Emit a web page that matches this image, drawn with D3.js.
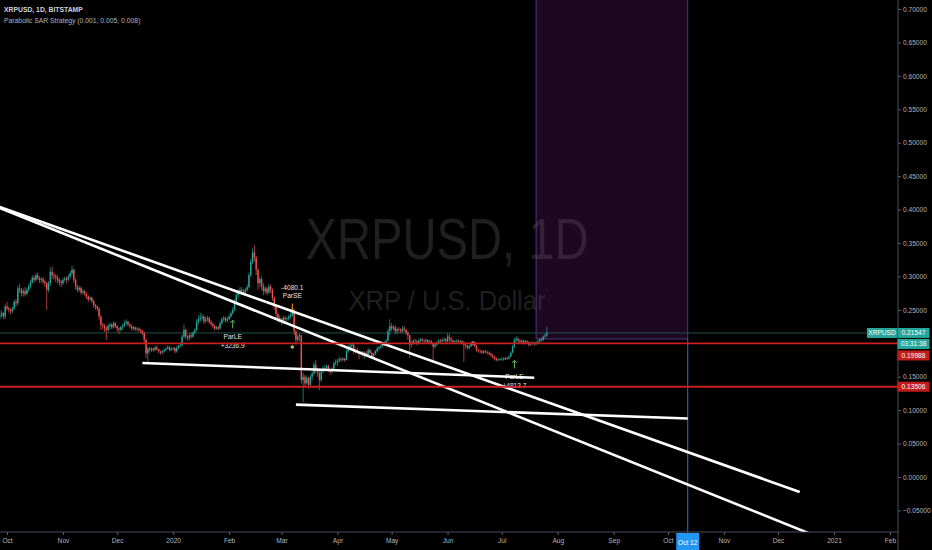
<!DOCTYPE html>
<html>
<head>
<meta charset="utf-8">
<script src="https://cdn.jsdelivr.net/npm/d3@7"></script>
<style>
  html, body { margin: 0; padding: 0; background: #000; }
  svg { display: block; font-family: "Liberation Sans", Arial, sans-serif; }
</style>
</head>
<body>
<svg id="chart" width="932" height="550"></svg>
<script>
// XRPUSD daily candles, Bitstamp, 2019-09-27 .. 2020-07-26
const startDate = "2019-09-27";
const firstOpen = 0.238;
const closes = [
  0.242, 0.245, 0.240, 0.255,
  0.252, 0.250, 0.248, 0.252, 0.262, 0.260, 0.282, 0.280, 0.275, 0.278, 0.274, 0.280, 0.285, 0.292, 0.298, 0.295, 0.302, 0.298, 0.295, 0.296, 0.292, 0.290, 0.280, 0.290, 0.307, 0.302, 0.300, 0.298, 0.295, 0.292, 0.290,
  0.295, 0.297, 0.295, 0.300, 0.305, 0.310, 0.295, 0.285, 0.280, 0.283, 0.276, 0.278, 0.274, 0.270, 0.266, 0.268, 0.263, 0.257, 0.255, 0.252, 0.240, 0.228, 0.226, 0.222, 0.220, 0.226, 0.228, 0.224, 0.230, 0.226,
  0.222, 0.220, 0.224, 0.226, 0.230, 0.232, 0.228, 0.226, 0.222, 0.224, 0.221, 0.222, 0.220, 0.218, 0.215, 0.205, 0.185, 0.192, 0.190, 0.192, 0.190, 0.194, 0.191, 0.188, 0.186, 0.188, 0.190, 0.192, 0.194, 0.190, 0.192,
  0.193, 0.188, 0.193, 0.196, 0.197, 0.210, 0.220, 0.210, 0.208, 0.212, 0.210, 0.216, 0.220, 0.232, 0.236, 0.238, 0.240, 0.233, 0.236, 0.238, 0.232, 0.229, 0.226, 0.222, 0.224, 0.222, 0.230, 0.236, 0.238, 0.234, 0.236,
  0.240, 0.245, 0.250, 0.262, 0.272, 0.276, 0.280, 0.278, 0.276, 0.280, 0.284, 0.302, 0.322, 0.336, 0.328, 0.310, 0.290, 0.296, 0.285, 0.278, 0.282, 0.276, 0.285, 0.280, 0.268, 0.255, 0.244, 0.238, 0.235,
  0.232, 0.238, 0.236, 0.237, 0.240, 0.242, 0.248, 0.218, 0.205, 0.210, 0.212, 0.145, 0.150, 0.140, 0.148, 0.138, 0.150, 0.155, 0.168, 0.160, 0.156, 0.145, 0.158, 0.162, 0.163, 0.166, 0.160, 0.158, 0.162, 0.170, 0.172,
  0.174, 0.176, 0.175, 0.177, 0.175, 0.188, 0.192, 0.196, 0.198, 0.188, 0.190, 0.186, 0.184, 0.187, 0.182, 0.186, 0.182, 0.190, 0.186, 0.180, 0.184, 0.188, 0.192, 0.194, 0.196, 0.198, 0.200, 0.204, 0.218, 0.226,
  0.222, 0.224, 0.218, 0.221, 0.220, 0.218, 0.222, 0.220, 0.216, 0.212, 0.198, 0.200, 0.204, 0.203, 0.200, 0.204, 0.206, 0.204, 0.203, 0.205, 0.202, 0.203, 0.200, 0.195, 0.198, 0.201, 0.204, 0.203, 0.205, 0.206, 0.203,
  0.210, 0.207, 0.204, 0.202, 0.203, 0.204, 0.202, 0.203, 0.201, 0.198, 0.196, 0.193, 0.196, 0.199, 0.201, 0.196, 0.190, 0.189, 0.188, 0.186, 0.188, 0.187, 0.186, 0.184, 0.182, 0.180, 0.177, 0.175, 0.176, 0.176,
  0.177, 0.176, 0.178, 0.177, 0.180, 0.186, 0.195, 0.205, 0.207, 0.204, 0.202, 0.204, 0.201, 0.203, 0.202, 0.198, 0.200, 0.201, 0.199, 0.201, 0.203, 0.206, 0.205, 0.210, 0.212, 0.21547,
];
const highs = [
  0.248, 0.249, 0.247, 0.258,
  0.262, 0.255, 0.253, 0.255, 0.265, 0.266, 0.286, 0.289, 0.283, 0.282, 0.284, 0.283, 0.289, 0.295, 0.302, 0.301, 0.305, 0.306, 0.300, 0.299, 0.299, 0.295, 0.292, 0.293, 0.313, 0.315, 0.306, 0.304, 0.302, 0.298, 0.295,
  0.298, 0.300, 0.300, 0.303, 0.308, 0.316, 0.312, 0.297, 0.288, 0.286, 0.285, 0.281, 0.280, 0.276, 0.272, 0.270, 0.270, 0.265, 0.259, 0.257, 0.254, 0.242, 0.231, 0.229, 0.226, 0.229, 0.231, 0.230, 0.233, 0.232,
  0.227, 0.224, 0.226, 0.229, 0.234, 0.236, 0.234, 0.230, 0.228, 0.226, 0.225, 0.224, 0.224, 0.222, 0.220, 0.217, 0.207, 0.195, 0.195, 0.194, 0.193, 0.196, 0.197, 0.192, 0.189, 0.190, 0.192, 0.194, 0.197, 0.196, 0.194,
  0.195, 0.194, 0.196, 0.198, 0.201, 0.213, 0.228, 0.222, 0.212, 0.215, 0.216, 0.218, 0.222, 0.236, 0.242, 0.246, 0.244, 0.242, 0.240, 0.241, 0.240, 0.235, 0.231, 0.228, 0.226, 0.226, 0.233, 0.239, 0.241, 0.240, 0.239,
  0.243, 0.248, 0.254, 0.266, 0.276, 0.281, 0.284, 0.284, 0.281, 0.283, 0.288, 0.306, 0.326, 0.342, 0.347, 0.331, 0.312, 0.299, 0.300, 0.290, 0.286, 0.284, 0.289, 0.288, 0.282, 0.270, 0.258, 0.246, 0.242,
  0.238, 0.241, 0.241, 0.240, 0.243, 0.246, 0.255, 0.250, 0.220, 0.214, 0.215, 0.213, 0.156, 0.153, 0.152, 0.150, 0.153, 0.158, 0.172, 0.175, 0.163, 0.160, 0.160, 0.166, 0.168, 0.168, 0.168, 0.162, 0.164, 0.173, 0.176,
  0.177, 0.180, 0.179, 0.179, 0.178, 0.191, 0.198, 0.199, 0.201, 0.199, 0.192, 0.194, 0.187, 0.189, 0.189, 0.188, 0.188, 0.193, 0.192, 0.188, 0.186, 0.190, 0.195, 0.196, 0.198, 0.200, 0.203, 0.206, 0.222, 0.236,
  0.230, 0.227, 0.227, 0.224, 0.224, 0.223, 0.226, 0.226, 0.222, 0.218, 0.213, 0.204, 0.206, 0.207, 0.205, 0.206, 0.208, 0.208, 0.206, 0.207, 0.206, 0.205, 0.205, 0.202, 0.200, 0.203, 0.206, 0.207, 0.207, 0.209, 0.208,
  0.215, 0.214, 0.209, 0.206, 0.205, 0.206, 0.206, 0.205, 0.205, 0.203, 0.200, 0.198, 0.198, 0.201, 0.203, 0.203, 0.198, 0.192, 0.191, 0.190, 0.190, 0.190, 0.189, 0.188, 0.186, 0.184, 0.181, 0.179, 0.178, 0.178,
  0.179, 0.179, 0.180, 0.180, 0.182, 0.188, 0.198, 0.208, 0.211, 0.209, 0.206, 0.206, 0.205, 0.205, 0.205, 0.203, 0.202, 0.203, 0.202, 0.203, 0.205, 0.208, 0.209, 0.212, 0.215, 0.225,
];
const lows = [
  0.235, 0.239, 0.236, 0.236,
  0.249, 0.246, 0.243, 0.245, 0.250, 0.255, 0.257, 0.275, 0.270, 0.270, 0.270, 0.272, 0.277, 0.282, 0.289, 0.290, 0.292, 0.294, 0.290, 0.290, 0.288, 0.284, 0.250, 0.276, 0.286, 0.296, 0.295, 0.292, 0.290, 0.286, 0.284,
  0.287, 0.292, 0.290, 0.293, 0.297, 0.302, 0.290, 0.280, 0.276, 0.277, 0.272, 0.273, 0.270, 0.266, 0.262, 0.263, 0.260, 0.253, 0.250, 0.248, 0.235, 0.220, 0.221, 0.217, 0.205, 0.217, 0.221, 0.221, 0.222, 0.223,
  0.217, 0.214, 0.218, 0.220, 0.224, 0.228, 0.225, 0.223, 0.219, 0.219, 0.218, 0.218, 0.217, 0.215, 0.212, 0.200, 0.178, 0.172, 0.186, 0.187, 0.187, 0.188, 0.189, 0.185, 0.183, 0.184, 0.186, 0.188, 0.191, 0.188, 0.188,
  0.189, 0.185, 0.186, 0.191, 0.194, 0.196, 0.208, 0.206, 0.204, 0.204, 0.207, 0.208, 0.213, 0.218, 0.228, 0.232, 0.234, 0.229, 0.230, 0.232, 0.229, 0.226, 0.222, 0.219, 0.220, 0.219, 0.221, 0.228, 0.233, 0.231, 0.231,
  0.234, 0.238, 0.243, 0.248, 0.259, 0.268, 0.273, 0.274, 0.272, 0.271, 0.277, 0.282, 0.299, 0.318, 0.322, 0.302, 0.280, 0.284, 0.280, 0.272, 0.274, 0.272, 0.274, 0.275, 0.264, 0.250, 0.238, 0.232, 0.231,
  0.228, 0.229, 0.232, 0.233, 0.234, 0.237, 0.240, 0.212, 0.198, 0.202, 0.203, 0.140, 0.112, 0.136, 0.138, 0.132, 0.136, 0.145, 0.152, 0.155, 0.150, 0.130, 0.142, 0.155, 0.158, 0.160, 0.157, 0.153, 0.155, 0.160, 0.167,
  0.166, 0.171, 0.172, 0.173, 0.172, 0.174, 0.186, 0.189, 0.192, 0.184, 0.185, 0.184, 0.176, 0.182, 0.180, 0.177, 0.180, 0.181, 0.184, 0.177, 0.178, 0.182, 0.186, 0.189, 0.192, 0.194, 0.196, 0.198, 0.203, 0.212,
  0.218, 0.219, 0.214, 0.213, 0.216, 0.215, 0.215, 0.217, 0.213, 0.205, 0.178, 0.194, 0.198, 0.200, 0.197, 0.199, 0.201, 0.202, 0.200, 0.200, 0.199, 0.199, 0.198, 0.175, 0.192, 0.196, 0.199, 0.200, 0.201, 0.202, 0.200,
  0.201, 0.202, 0.201, 0.199, 0.199, 0.201, 0.199, 0.200, 0.198, 0.172, 0.192, 0.190, 0.191, 0.194, 0.196, 0.194, 0.187, 0.186, 0.185, 0.184, 0.184, 0.185, 0.183, 0.182, 0.179, 0.177, 0.174, 0.173, 0.173, 0.174,
  0.174, 0.174, 0.175, 0.175, 0.176, 0.179, 0.185, 0.193, 0.201, 0.201, 0.199, 0.200, 0.198, 0.199, 0.199, 0.195, 0.196, 0.198, 0.196, 0.197, 0.199, 0.201, 0.202, 0.203, 0.207, 0.210,
];

const priceTicks = [-0.05, 0, 0.05, 0.1, 0.15, 0.2, 0.25, 0.3, 0.35, 0.4, 0.45, 0.5, 0.55, 0.6, 0.65, 0.7];
const monthTicks = [
  "2019-10-01", "2019-11-01", "2019-12-01", "2020-01-01", "2020-02-01", "2020-03-01", "2020-04-01", "2020-05-01", "2020-06-01",
  "2020-07-01", "2020-08-01", "2020-09-01", "2020-10-01", "2020-11-01", "2020-12-01", "2021-01-01", "2021-02-01",
];
const monthLabels = ["Oct", "Nov", "Dec", "2020", "Feb", "Mar", "Apr", "May", "Jun", "Jul", "Aug", "Sep", "Oct", "Nov", "Dec", "2021", "Feb"];

const lastPrice = 0.21547;
const countdown = "03:31:38";
const levelPrices = [0.19988, 0.13506];

// hand-drawn trend lines: [date, price] end points
const trendLines = [
  [["2019-09-27", 0.4039], ["2020-12-13", -0.0224]],
  [["2019-09-27", 0.4024], ["2020-12-29", -0.096]],
  [["2019-12-15", 0.1705], ["2020-07-19", 0.1485]],
  [["2020-03-09", 0.1082], ["2020-10-12", 0.0875]],
];

const boxStart = "2020-07-20";
const boxEnd = "2020-10-12";
const boxTop = 0.72;
const boxBottom = 0.2065;
const cursorDate = "2020-10-12";
const cursorLabel = "Oct 12";

const signalDates = ["2020-02-03", "2020-03-07", "2020-07-08"];
const signalPrices = [0.2345, 0.2475, 0.1745];
const signalSides = ["long", "short", "long"];
const signalTexts = [["ParLE", "+3236.9"], ["-4080.1", "ParSE"], ["ParLE", "+4813.7"]];
const dotDates = ["2020-03-07", "2020-06-15"];
const dotPrices = [0.1945, 0.2004];

const width = 932;
const height = 550;
const plotRight = 898;
const plotBottom = 532;
const green = "#26a69a";
const red = "#ef5350";
const levelRed = "#cc1f1f";
const textColor = "#b2b5be";
const gridColor = "#5d606b";

const svg = d3.select("#chart");
const day = 864e5;
const parse = (s) => new Date(s + "T00:00:00Z");

const x = d3.scaleUtc()
  .domain([parse("2019-10-01"), parse("2021-02-01")])
  .range([7, 890]);
const y = d3.scaleLinear().domain([0, 0.7]).range([477, 9.05]);

const t0 = parse(startDate).getTime();
const candles = closes.map((c, i) => ({
  date: new Date(t0 + i * day),
  open: i ? closes[i - 1] : firstOpen,
  high: highs[i],
  low: lows[i],
  close: c,
}));

svg.append("rect").attr("width", width).attr("height", height).attr("fill", "#000");

svg.append("defs").append("clipPath").attr("id", "plot-clip")
  .append("rect").attr("width", plotRight).attr("height", plotBottom);

const plot = svg.append("g").attr("clip-path", "url(#plot-clip)");

// watermark
plot.append("text")
  .attr("x", 447).attr("y", 259)
  .attr("text-anchor", "middle")
  .attr("font-size", 58)
  .attr("fill", "#1f1f1f")
  .attr("textLength", 283).attr("lengthAdjust", "spacingAndGlyphs")
  .text("XRPUSD, 1D");
plot.append("text")
  .attr("x", 447).attr("y", 310)
  .attr("text-anchor", "middle")
  .attr("font-size", 28)
  .attr("fill", "#1f1f1f")
  .attr("textLength", 197).attr("lengthAdjust", "spacingAndGlyphs")
  .text("XRP / U.S. Dollar");

// long position box (translucent, the watermark shows through)
plot.append("rect")
  .attr("x", x(parse(boxStart)))
  .attr("y", y(boxTop))
  .attr("width", x(parse(boxEnd)) - x(parse(boxStart)))
  .attr("height", y(boxBottom) - y(boxTop))
  .attr("fill", "#9c27b0")
  .attr("fill-opacity", 0.19)
  .attr("stroke", "#6b3f9e")
  .attr("stroke-width", 0.8);

plot.append("line")
  .attr("x1", x(parse(cursorDate))).attr("x2", x(parse(cursorDate)))
  .attr("y1", y(boxBottom)).attr("y2", plotBottom)
  .attr("stroke", "#3a7fd0").attr("stroke-width", 0.9);

// last price line
plot.append("line")
  .attr("x1", 0).attr("x2", plotRight)
  .attr("y1", y(lastPrice)).attr("y2", y(lastPrice))
  .attr("stroke", "#1f5148").attr("stroke-width", 1);

// candles
const candleG = plot.append("g");
candleG.selectAll("line")
  .data(candles)
  .join("line")
  .attr("x1", (d) => x(d.date)).attr("x2", (d) => x(d.date))
  .attr("y1", (d) => y(d.high)).attr("y2", (d) => y(d.low))
  .attr("stroke", (d) => (d.close >= d.open ? green : red))
  .attr("stroke-width", 0.7);
candleG.selectAll("rect")
  .data(candles)
  .join("rect")
  .attr("x", (d) => x(d.date) - 0.7)
  .attr("width", 1.4)
  .attr("y", (d) => y(Math.max(d.open, d.close)))
  .attr("height", (d) => Math.max(0.7, Math.abs(y(d.open) - y(d.close))))
  .attr("fill", (d) => (d.close >= d.open ? green : red));

// strategy signals
signalDates.forEach((date, i) => {
  const cx = x(parse(date));
  const tip = y(signalPrices[i]);
  const isLong = signalSides[i] === "long";
  const color = isLong ? "#66bb6a" : "#ff9800";
  const tail = isLong ? tip + 8 : tip - 8;
  const head = isLong ? 2.5 : -2.5;
  const g = plot.append("g");
  g.append("line")
    .attr("x1", cx).attr("x2", cx).attr("y1", tip).attr("y2", tail)
    .attr("stroke", color).attr("stroke-width", 1);
  g.append("path")
    .attr("d", `M${cx - 2.2},${tip + head} L${cx},${tip} L${cx + 2.2},${tip + head}`)
    .attr("fill", "none").attr("stroke", color).attr("stroke-width", 1);
  const baseY = isLong ? [tip + 19, tip + 28] : [tip - 22, tip - 14];
  signalTexts[i].forEach((txt, j) => {
    g.append("text")
      .attr("x", cx).attr("y", baseY[j])
      .attr("text-anchor", "middle")
      .attr("font-size", 6.6)
      .attr("fill", "#e0e3eb")
      .text(txt);
  });
});

plot.selectAll(".sar-dot")
  .data(dotDates)
  .join("circle")
  .attr("class", "sar-dot")
  .attr("cx", (d) => x(parse(d)))
  .attr("cy", (d, i) => y(dotPrices[i]))
  .attr("r", 1.8)
  .attr("fill", (d, i) => (i === 0 ? "#9ccc65" : "#e57373"));

// trend lines
plot.selectAll(".trend")
  .data(trendLines)
  .join("line")
  .attr("class", "trend")
  .attr("x1", (d) => x(parse(d[0][0]))).attr("y1", (d) => y(d[0][1]))
  .attr("x2", (d) => x(parse(d[1][0]))).attr("y2", (d) => y(d[1][1]))
  .attr("stroke", "#ffffff")
  .attr("stroke-width", 2.6)
  .attr("stroke-linecap", "butt");

// horizontal levels
plot.selectAll(".level")
  .data(levelPrices)
  .join("line")
  .attr("class", "level")
  .attr("x1", 0).attr("x2", plotRight)
  .attr("y1", (d) => y(d)).attr("y2", (d) => y(d))
  .attr("stroke", levelRed)
  .attr("stroke-width", 1.9);

// axes
svg.append("line")
  .attr("x1", plotRight).attr("x2", plotRight).attr("y1", 0).attr("y2", height)
  .attr("stroke", gridColor).attr("stroke-width", 0.8);
svg.append("line")
  .attr("x1", 0).attr("x2", plotRight).attr("y1", plotBottom).attr("y2", plotBottom)
  .attr("stroke", gridColor).attr("stroke-width", 0.8);

// price scale labels, stacked so they do not overlap
const fmt = d3.format(".5f");
const labelBoxes = [];
let prevBottom = -Infinity;
[{ price: lastPrice, text: fmt(lastPrice), fill: green, extra: countdown }]
  .concat(levelPrices.map((p) => ({ price: p, text: fmt(p), fill: "#c21d1d" })))
  .sort((a, b) => b.price - a.price)
  .forEach((d) => {
    const top = Math.max(y(d.price) - 5, prevBottom + 1.5);
    labelBoxes.push({ top, text: d.text, fill: d.fill });
    prevBottom = top + 10;
    if (d.extra) {
      labelBoxes.push({ top: prevBottom + 1, text: d.extra, fill: green });
      prevBottom += 11;
    }
  });

// tick labels hidden behind a price label are dropped, as the platform does
const visibleTicks = priceTicks.filter((v) =>
  !labelBoxes.some((b) => y(v) > b.top - 4 && y(v) < b.top + 14));

const yAxis = svg.append("g")
  .attr("transform", `translate(${plotRight},0)`)
  .call(d3.axisRight(y).tickValues(visibleTicks).tickSize(3).tickPadding(2).tickFormat(d3.format(".5f")));
yAxis.select(".domain").remove();
yAxis.attr("font-family", null).attr("font-size", 6.6);
yAxis.selectAll(".tick line").attr("stroke", gridColor);
yAxis.selectAll(".tick text").attr("fill", textColor);

const xAxis = svg.append("g")
  .attr("transform", `translate(0,${plotBottom})`)
  .call(d3.axisBottom(x).tickValues(monthTicks.map(parse)).tickSize(3).tickPadding(3).tickFormat((d, i) => monthLabels[i]));
xAxis.select(".domain").remove();
xAxis.attr("font-family", null).attr("font-size", 6.6);
xAxis.selectAll(".tick line").attr("stroke", gridColor);
xAxis.selectAll(".tick text").attr("fill", textColor);

// cursor date label
const cx12 = x(parse(cursorDate));
svg.append("rect")
  .attr("x", cx12 - 11.5).attr("y", plotBottom + 1).attr("width", 23).attr("height", height - plotBottom - 1)
  .attr("fill", "#2196f3");
svg.append("text")
  .attr("x", cx12).attr("y", 544.5).attr("text-anchor", "middle")
  .attr("font-size", 6.6).attr("fill", "#fff")
  .text(cursorLabel);

svg.selectAll(".price-box")
  .data(labelBoxes)
  .join("rect")
  .attr("class", "price-box")
  .attr("x", plotRight - 0.5).attr("y", (d) => d.top)
  .attr("width", 32).attr("height", 10)
  .attr("fill", (d) => d.fill);
svg.selectAll(".price-box-text")
  .data(labelBoxes)
  .join("text")
  .attr("class", "price-box-text")
  .attr("x", plotRight + 15.5).attr("y", (d) => d.top + 7.4)
  .attr("text-anchor", "middle")
  .attr("font-size", 6.6)
  .attr("fill", "#fff")
  .text((d) => d.text);

// symbol tag next to the last price
svg.append("rect")
  .attr("x", plotRight - 31).attr("y", y(lastPrice) - 5)
  .attr("width", 30).attr("height", 10)
  .attr("fill", green);
svg.append("text")
  .attr("x", plotRight - 16).attr("y", y(lastPrice) + 2.4)
  .attr("text-anchor", "middle")
  .attr("font-size", 6.6).attr("fill", "#fff")
  .text("XRPUSD");

// legend
svg.append("text")
  .attr("x", 4).attr("y", 12)
  .attr("font-size", 6.8).attr("font-weight", "bold")
  .attr("fill", "#d1d4dc")
  .text("XRPUSD, 1D, BITSTAMP");
svg.append("text")
  .attr("x", 4).attr("y", 23)
  .attr("font-size", 6.8)
  .attr("fill", "#b2b5be")
  .text("Parabolic SAR Strategy (0.001, 0.005, 0.008)");
</script>
</body>
</html>
